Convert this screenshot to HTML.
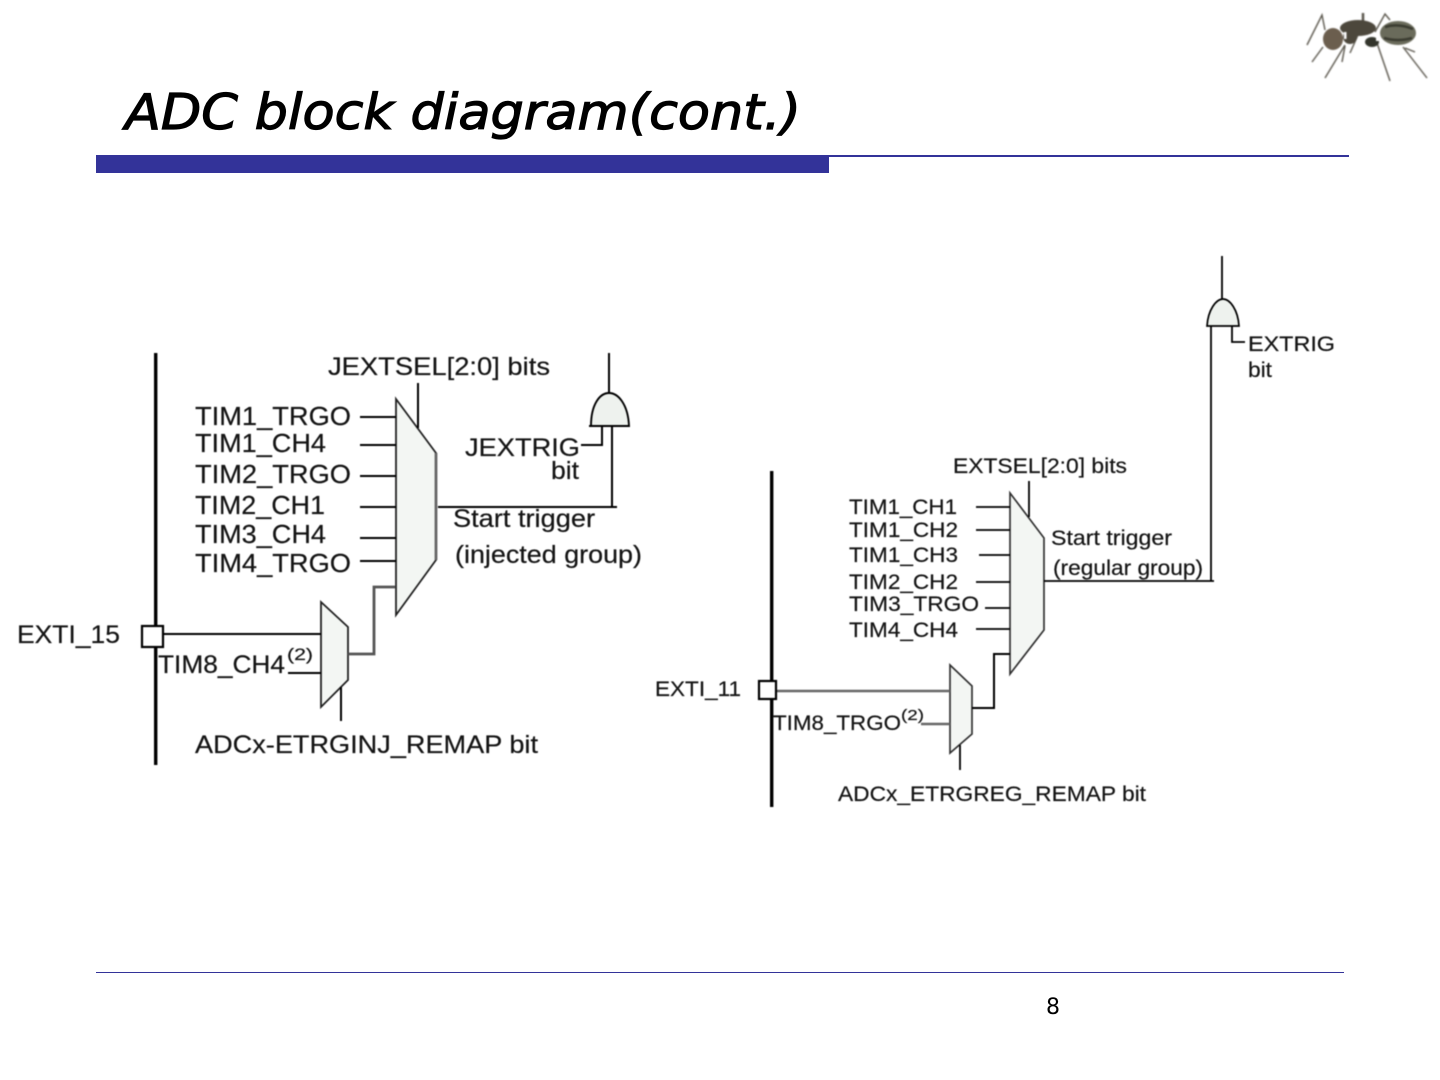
<!DOCTYPE html>
<html><head><meta charset="utf-8"><style>
html,body{margin:0;padding:0;background:#fff;width:1440px;height:1080px;overflow:hidden}
svg{display:block}
.a{font-family:"Liberation Sans",sans-serif;fill:#141414;stroke:#141414;stroke-width:.2}
.d{filter:blur(.4px)}
</style></head><body>
<svg width="1440" height="1080" viewBox="0 0 1440 1080" xmlns="http://www.w3.org/2000/svg">
<!-- ant -->
<g style="filter:blur(.7px)">
<g fill="none" stroke="#5a564c" stroke-width="1.4">
<path d="M1307 45L1322 15L1325 30"/><path d="M1312 62L1323 47"/><path d="M1325 78L1345 45"/><path d="M1342 62L1345 46"/><path d="M1350 53L1358 35"/><path d="M1375 32L1385 14L1390 20"/><path d="M1390 81L1377 43"/><path d="M1427 78L1403 47"/><path d="M1415 52L1405 48"/><path d="M1363 24L1363 13" stroke-width="2.5"/>
</g>
<ellipse cx="1333" cy="39" rx="10" ry="11" fill="#6b5e4e"/>
<ellipse cx="1358" cy="28" rx="18" ry="8" fill="#4c473c"/>
<ellipse cx="1350" cy="37" rx="7" ry="7" fill="#4c473c"/>
<ellipse cx="1372" cy="42" rx="7" ry="5" fill="#33352c"/>
<ellipse cx="1398" cy="33" rx="18" ry="12" fill="#6a6b5b"/>
<path d="M1385 27Q1398 23 1413 29M1384 38Q1398 42 1412 38" stroke="#3a3b30" stroke-width="2.5" fill="none"/>
<rect x="1344" y="32" width="2.500" height="7" fill="#fff"/>
<rect x="1376" y="38" width="5" height="3" fill="#fff"/>
</g>
<!-- header -->
<text x="125" y="129" font-family="'DejaVu Sans',sans-serif" font-style="italic" font-size="49" fill="#000" stroke="#000" stroke-width="1.200" textLength="676" lengthAdjust="spacingAndGlyphs">ADC block diagram(cont.)</text>
<rect x="96" y="155" width="733" height="18" fill="#333399"/>
<rect x="829" y="155" width="520" height="2" fill="#333399"/>
<rect x="96" y="972" width="1248" height="1" fill="#333399"/>
<text x="1046" y="1014" font-family="'DejaVu Sans',sans-serif" font-size="22" fill="#000">8</text>

<g class="d">
<!-- LEFT diagram -->
<rect x="154" y="353" width="3.400" height="412" fill="#000"/>
<path d="M396 399L436 453V560L396 615Z" fill="#f3f6f3" stroke="#222" stroke-width="1.8"/>
<path d="M436 453V560" stroke="#666" stroke-width="2.8" fill="none"/>
<path d="M321 602L348 627V680L321 707Z" fill="#f3f6f3" stroke="#222" stroke-width="1.8"/>
<g stroke="#000" fill="none" stroke-width="2">
<path d="M360 417H396M360 445H396M360 476H396M360 507H396M360 538H396M360 561H396"/>
<path d="M418 383V428"/>
<path d="M163 634H321"/>
<path d="M288 673H321"/>
<path d="M341 687V721"/>
<path d="M438 507H617"/>
<path d="M609 353V393"/>
</g>
<path d="M348 654H374V587H395" fill="none" stroke="#555" stroke-width="2.800"/>
<path d="M589 426H629C628 404 618 393 609 393C600 393 591 404 591 426Z" fill="#eef2ee" stroke="#000" stroke-width="1.9"/>
<path d="M581 445H602V426M612 426V507" stroke="#000" stroke-width="2" fill="none"/>
<rect x="142" y="626" width="21" height="21" fill="#fff" stroke="#000" stroke-width="2.200"/>

<g class="a" font-size="26">
<text x="195" y="425" textLength="156" lengthAdjust="spacingAndGlyphs">TIM1_TRGO</text>
<text x="195" y="452" textLength="131" lengthAdjust="spacingAndGlyphs">TIM1_CH4</text>
<text x="195" y="483" textLength="156" lengthAdjust="spacingAndGlyphs">TIM2_TRGO</text>
<text x="195" y="514" textLength="130" lengthAdjust="spacingAndGlyphs">TIM2_CH1</text>
<text x="195" y="543" textLength="131" lengthAdjust="spacingAndGlyphs">TIM3_CH4</text>
<text x="195" y="572" textLength="156" lengthAdjust="spacingAndGlyphs">TIM4_TRGO</text>
<text x="158" y="673" textLength="127" lengthAdjust="spacingAndGlyphs" font-size="25">TIM8_CH4</text>
<text x="287" y="660" font-size="17" textLength="26" lengthAdjust="spacingAndGlyphs">(2)</text>
<text x="17" y="643" font-size="25" textLength="103" lengthAdjust="spacingAndGlyphs">EXTI_15</text>
<text x="328" y="375" font-size="25" textLength="222" lengthAdjust="spacingAndGlyphs">JEXTSEL[2:0] bits</text>
<text x="465" y="456" font-size="25" textLength="115" lengthAdjust="spacingAndGlyphs">JEXTRIG</text>
<text x="551" y="479" font-size="25" textLength="28" lengthAdjust="spacingAndGlyphs">bit</text>
<text x="453" y="527" font-size="25" textLength="142" lengthAdjust="spacingAndGlyphs">Start trigger</text>
<text x="455" y="563" font-size="25" textLength="187" lengthAdjust="spacingAndGlyphs">(injected group)</text>
<text x="195" y="753" font-size="25" textLength="343" lengthAdjust="spacingAndGlyphs">ADCx-ETRGINJ_REMAP bit</text>
</g>

<!-- RIGHT diagram -->
<rect x="770" y="471" width="3.400" height="336" fill="#000"/>
<path d="M1010 493L1044 538V630L1010 674Z" fill="#f3f6f3" stroke="#333" stroke-width="1.7"/>
<path d="M950 665L972 686V734L950 753Z" fill="#f3f6f3" stroke="#333" stroke-width="1.7"/>
<g stroke="#000" fill="none" stroke-width="1.8">
<path d="M976 507H1010M976 530H1010M979 555H1010M976 582H1010M985 608H1010M976 629H1010"/>
<path d="M1029 481V517"/>
<path d="M1044 581H1214M1211 581V326M1222 256V299"/>
<path d="M1232 326V342H1245"/>
<path d="M960 745V770"/>
<path d="M972 708H994V654H1010" stroke-width="2"/>
</g>
<path d="M775 691H950M921 724H950" stroke="#666" stroke-width="2.600" fill="none"/>
<path d="M1207 326H1239C1238 310 1230 299 1223 299C1216 299 1208 310 1207 326Z" fill="#eef2ee" stroke="#000" stroke-width="1.7"/>
<rect x="759" y="681" width="17" height="18" fill="#fff" stroke="#000" stroke-width="2.200"/>

<g class="a" font-size="21">
<text x="849" y="514" textLength="108" lengthAdjust="spacingAndGlyphs">TIM1_CH1</text>
<text x="849" y="537" textLength="109" lengthAdjust="spacingAndGlyphs">TIM1_CH2</text>
<text x="849" y="562" textLength="109" lengthAdjust="spacingAndGlyphs">TIM1_CH3</text>
<text x="849" y="589" textLength="109" lengthAdjust="spacingAndGlyphs">TIM2_CH2</text>
<text x="849" y="611" textLength="130" lengthAdjust="spacingAndGlyphs">TIM3_TRGO</text>
<text x="849" y="637" textLength="109" lengthAdjust="spacingAndGlyphs">TIM4_CH4</text>
<text x="773" y="730" textLength="128" lengthAdjust="spacingAndGlyphs">TIM8_TRGO</text>
<text x="901" y="720" font-size="15" textLength="23" lengthAdjust="spacingAndGlyphs">(2)</text>
<text x="655" y="696" textLength="86" lengthAdjust="spacingAndGlyphs">EXTI_11</text>
<text x="953" y="473" textLength="174" lengthAdjust="spacingAndGlyphs">EXTSEL[2:0] bits</text>
<text x="1051" y="545" textLength="121" lengthAdjust="spacingAndGlyphs">Start trigger</text>
<text x="1053" y="575" textLength="150" lengthAdjust="spacingAndGlyphs">(regular group)</text>
<text x="1248" y="351" textLength="87" lengthAdjust="spacingAndGlyphs">EXTRIG</text>
<text x="1248" y="377" textLength="24" lengthAdjust="spacingAndGlyphs">bit</text>
<text x="838" y="801" textLength="308" lengthAdjust="spacingAndGlyphs">ADCx_ETRGREG_REMAP bit</text>
</g>
</g>
</svg>
</body></html>
